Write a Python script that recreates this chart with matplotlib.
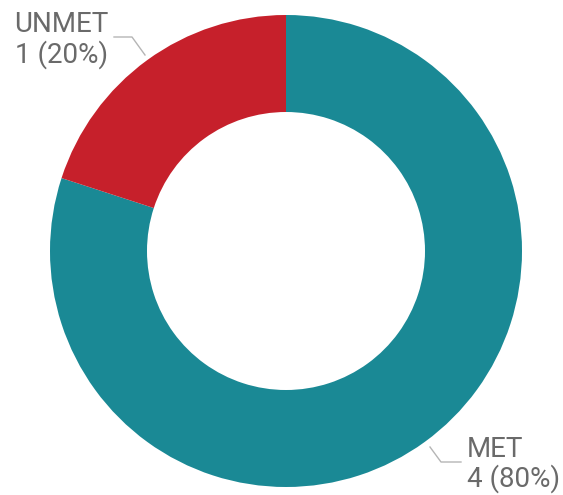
import matplotlib.pyplot as plt

labels = ["MET", "UNMET"]
counts = [4, 1]
colors = ["#1a8995", "#c6202b"]

W, H = 563, 495
fig = plt.figure(figsize=(W / 100, H / 100), dpi=100)
ax = fig.add_axes([0, 0, 1, 1])

# donut, MET running clockwise from 12 o'clock
cx, cy, r = 286, H - 251, 236
ax.pie(counts, colors=colors, startangle=90, counterclock=False,
       center=(cx, cy), radius=r, frame=True,
       wedgeprops=dict(width=r - 139, linewidth=0))
ax.set_xlim(0, W)
ax.set_ylim(0, H)
ax.set_aspect("equal")
ax.axis("off")

total = sum(counts)
txt = dict(color="#6a6a6a", fontsize=20, family="Roboto", va="baseline")
line = dict(color="#b5b5b5", linewidth=1.0)


def label(i):
    return labels[i], f"{counts[i]} ({counts[i] / total:.0%})"


# UNMET label, upper left
ax.plot([145, 132, 114], [H - 55, H - 37, H - 37], **line)
name, value = label(1)
ax.text(108, H - 32, name, ha="right", **txt)
ax.text(108, H - 63, value, ha="right", **txt)

# MET label, lower right
ax.plot([430, 441, 461], [H - 447, H - 462, H - 462], **line)
name, value = label(0)
ax.text(467, H - 457, name, ha="left", **txt)
ax.text(467, H - 487, value, ha="left", **txt)

fig.savefig("out.png", dpi=100, facecolor="white")
